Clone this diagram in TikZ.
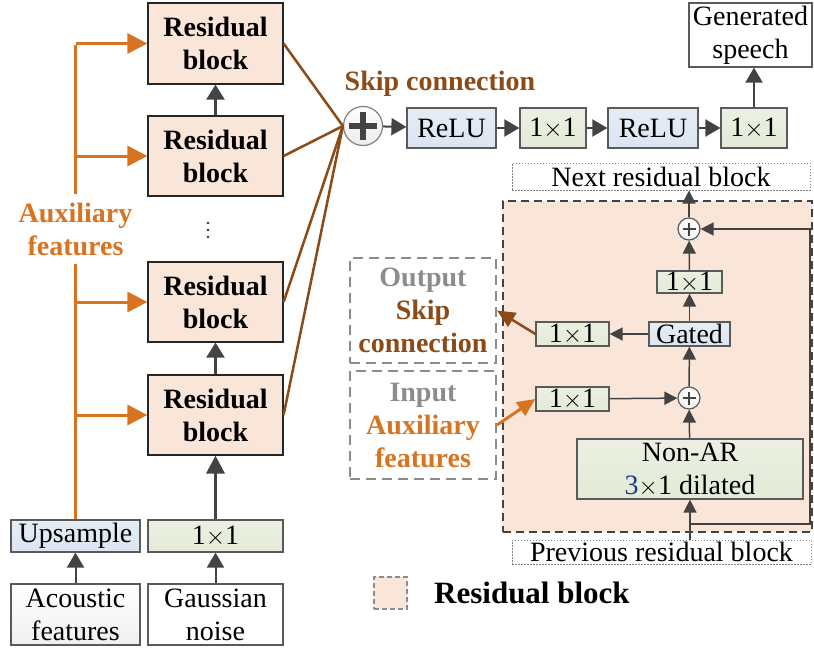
\documentclass[tikz,border=0pt]{standalone}
\usepackage{fontspec}
\setmainfont{Liberation Serif}
\usetikzlibrary{arrows.meta}

\definecolor{peach}{HTML}{FAE6D9}
\definecolor{blueF}{HTML}{DBE5F1}
\definecolor{greenF}{HTML}{E3EAD6}
\definecolor{orangeC}{HTML}{D87322}
\definecolor{brownC}{HTML}{8B4A16}
\definecolor{greyT}{HTML}{8C8C8C}
\definecolor{arrowG}{HTML}{434343}
\definecolor{borderG}{HTML}{5A5A5A}
\definecolor{darkblueT}{HTML}{1F3C88}

\newcommand\basefs{\fontsize{28}{33}\selectfont}

\tikzset{
  box/.style={draw=borderG, line width=1.2pt, inner sep=0pt, align=center, font=\basefs},
  resblk/.style={box, fill=peach, draw=black!85, font=\basefs\bfseries},
  bluebox/.style={box, top color=blueF!70, bottom color=blueF},
  greenbox/.style={box, top color=greenF!70, bottom color=greenF},
  whitebox/.style={box, top color=white, bottom color=gray!12},
  plainbox/.style={box, fill=white},
  dotbox/.style={box, draw=gray, line width=1pt, dash pattern=on 1.5pt off 1.5pt},
  gdash/.style={box, draw=greyT, line width=2pt, dash pattern=on 10pt off 6pt, font=\basefs\bfseries},
  sumbig/.style={circle, draw=gray, line width=1.2pt, inner sep=0pt, minimum size=39pt,
    top color=white, bottom color=gray!15,
    path picture={\draw[arrowG, line width=6.5pt]
      ([xshift=-14pt]path picture bounding box.center) -- ([xshift=14pt]path picture bounding box.center)
      ([yshift=-14pt]path picture bounding box.center) -- ([yshift=14pt]path picture bounding box.center);}},
  sumsmall/.style={circle, draw=borderG, line width=1.2pt, inner sep=0pt, minimum size=22pt,
    top color=white, bottom color=gray!10,
    path picture={\draw[arrowG, line width=2.6pt]
      ([xshift=-6.5pt]path picture bounding box.center) -- ([xshift=6.5pt]path picture bounding box.center)
      ([yshift=-6.5pt]path picture bounding box.center) -- ([yshift=6.5pt]path picture bounding box.center);}},
  orangeline/.style={draw=orangeC, line width=3pt},
  orangearrow/.style={orangeline, -{Triangle[length=20pt,width=20pt]}},
  brownline/.style={draw=brownC, line width=2.5pt},
  brownarrow/.style={brownline, -{Triangle[length=18pt,width=16pt]}},
  midarrow/.style={draw=arrowG, line width=2.5pt, -{Triangle[length=15pt,width=18pt]}},
  thickarrow/.style={draw=arrowG, line width=3.5pt, -{Triangle[length=18pt,width=18pt]}},
  toparrow/.style={draw=arrowG, line width=2pt, -{Triangle[length=15pt,width=17pt]}},
  thinarrow/.style={draw=arrowG, line width=1.5pt, -{Triangle[length=13pt,width=13pt]}},
  thinline/.style={draw=arrowG, line width=1.5pt},
}

\begin{document}
\begin{tikzpicture}[x=1pt, y=-1pt]
\useasboundingbox (0,0) rectangle (814,648);

% ---------- left column: stacked residual blocks ----------
\node[resblk, minimum width=135pt, minimum height=81pt] (rb1) at (215.5,43.5) {Residual\\block};
\node[resblk, minimum width=135pt, minimum height=80pt] (rb2) at (215.5,156) {Residual\\block};
\node[resblk, minimum width=135pt, minimum height=80pt] (rb3) at (215.5,302) {Residual\\block};
\node[resblk, minimum width=135pt, minimum height=80pt] (rb4) at (215.5,415) {Residual\\block};
\foreach \yy in {223,230,237} \fill[black!80] (208,\yy) circle (1.4pt);

\node[bluebox, minimum width=129pt, minimum height=32pt] (up) at (75.5,536) {Upsample};
\node[greenbox, minimum width=135pt, minimum height=32pt] (c11) at (215.5,536) {1$\times$1};
\node[whitebox, minimum width=129pt, minimum height=61pt] (ac) at (75.5,614.5) {Acoustic\\features};
\node[plainbox, minimum width=135pt, minimum height=61pt] (gn) at (215.5,614.5) {Gaussian\\noise};

\draw[toparrow] (ac) -- (up);
\draw[toparrow] (gn) -- (c11);
\draw[thickarrow] (c11) -- (rb4);
\draw[midarrow] (rb4) -- (rb3);
\draw[midarrow] (rb2) -- (rb1);

% auxiliary-feature trunk and branches
\coordinate (t1) at (up.north |- rb1.west);
\coordinate (t2) at (up.north |- rb2.west);
\coordinate (t3) at (up.north |- rb3.west);
\coordinate (t4) at (up.north |- rb4.west);
\draw[orangeline] (up.north) -- ([yshift=-1.5pt]t1);
\draw[orangearrow] (t1) -- (rb1.west);
\draw[orangearrow] (t2) -- (rb2.west);
\draw[orangearrow] (t3) -- (rb3.west);
\draw[orangearrow] (t4) -- (rb4.west);
\node[fill=white, inner sep=0pt, minimum height=70pt, minimum width=118pt, align=center,
      text=orangeC, font=\basefs\bfseries] (aux) at (75.5,229) {Auxiliary\\features};

% ---------- skip connections and output stack ----------
\node[sumbig] (sum) at (363,126) {};
\draw[brownline] (rb1.east) -- (sum.west);
\draw[brownline] (rb2.east) -- (sum.west);
\draw[brownline] (rb3.east) -- (sum.west);
\draw[brownline] (rb4.east) -- (sum.west);
\node[text=brownC, font=\basefs\bfseries, inner sep=0pt] (skiplbl) at (440,84) {Skip connection};

\node[bluebox, minimum width=89pt, minimum height=40pt] (relu1) at (451.5,128) {ReLU};
\node[greenbox, minimum width=66pt, minimum height=40pt] (o1) at (553,128) {1$\times$1};
\node[bluebox, minimum width=90pt, minimum height=40pt] (relu2) at (653,128) {ReLU};
\node[greenbox, minimum width=66pt, minimum height=40pt] (o2) at (754,128) {1$\times$1};
\node[plainbox, minimum width=123pt, minimum height=64pt] (gen) at (750.5,35) {Generated\\speech};

\draw[toparrow] (sum) -- (relu1);
\draw[toparrow] (relu1) -- (o1);
\draw[toparrow] (o1) -- (relu2);
\draw[toparrow] (relu2) -- (o2);
\draw[toparrow] (o2.north) -- (o2.north |- gen.south);

% ---------- inside one residual block ----------
\node[draw=arrowG, fill=peach, line width=1.8pt, dash pattern=on 8pt off 5pt,
      minimum width=309pt, minimum height=331pt, inner sep=0pt] (resreg) at (657.5,366.5) {};

\node[dotbox, minimum width=298pt, minimum height=27pt] (nrb) at (661,176.5) {Next residual block};
\node[dotbox, minimum width=299pt, minimum height=24pt] (prb) at (661.5,552) {Previous residual block};

\node[sumsmall] (p1) at (689,229) {};
\node[greenbox, minimum width=65pt, minimum height=22pt] (a11) at (689.5,282) {1$\times$1};
\node[bluebox, minimum width=81pt, minimum height=24pt] (gated) at (689.5,334) {Gated};
\node[greenbox, minimum width=73pt, minimum height=24pt] (s11) at (572.5,334) {1$\times$1};
\node[greenbox, minimum width=73pt, minimum height=24pt] (i11) at (572.5,399) {1$\times$1};
\node[sumsmall] (p2) at (689,398) {};
\node[greenbox, minimum width=226pt, minimum height=60pt, text depth=0pt] (nonar) at (690,469)
  {Non-AR\\{\color{darkblueT}3}$\times$1 dilated};

\coordinate (br) at (nonar.south |- 0,524);
\coordinate (fb) at (810,524);
\draw[thinline] (prb.north -| nonar.south) -- (br);
\draw[thinarrow] (br) -- (nonar.south);
\draw[thinarrow] (br) -- (fb) -- (fb |- p1.east) -- (p1.east);
\draw[thinarrow] (nonar) -- (p2);
\draw[thinarrow] (i11) -- (p2);
\draw[thinarrow] (p2) -- (gated);
\draw[thinarrow] (gated) -- (a11);
\draw[thinarrow] (a11) -- (p1);
\draw[thinarrow] (p1) -- (p1 |- nrb.south);
\draw[thinarrow] (gated) -- (s11);

% output / input labels
\node[gdash, minimum width=146pt, minimum height=105pt] (ob) at (423,310.5)
  {{\color{greyT}Output}\\{\color{brownC}Skip}\\{\color{brownC}connection}};
\node[gdash, minimum width=146pt, minimum height=108pt] (ib) at (423,425)
  {{\color{greyT}Input}\\{\color{orangeC}Auxiliary}\\{\color{orangeC}features}};
\draw[brownarrow] (s11.west) -- (ob.east);
\draw[orangeline, -{Triangle[length=18pt,width=16pt]}] (ib.east) -- (i11.west);

% ---------- legend ----------
\node[draw=greyT, fill=peach, line width=1.2pt, dash pattern=on 5pt off 3pt,
      minimum width=33pt, minimum height=32pt, inner sep=0pt] (legbox) at (390.5,593) {};
\node[anchor=west, inner sep=0pt, font=\fontsize{31}{36}\selectfont\bfseries] (leglbl) at (434,593) {Residual block};
\end{tikzpicture}
\end{document}
